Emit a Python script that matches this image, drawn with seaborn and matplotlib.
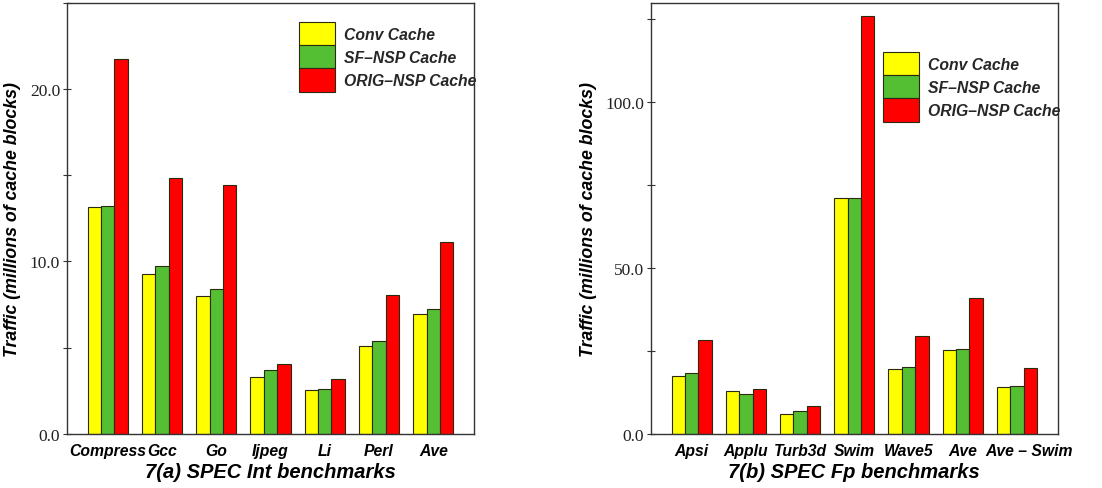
import pandas as pd
import seaborn as sns
import matplotlib.pyplot as plt
from matplotlib.ticker import MultipleLocator
from matplotlib.transforms import ScaledTranslation

# Traffic (millions of cache blocks)
int_benchmarks = ['Compress', 'Gcc', 'Go', 'Ijpeg', 'Li', 'Perl', 'Ave']
int_conv = [13.16, 9.25, 8.02, 3.28, 2.54, 5.10, 6.92]
int_sf_nsp = [13.20, 9.71, 8.42, 3.70, 2.60, 5.36, 7.21]
int_orig_nsp = [21.77, 14.84, 14.45, 4.06, 3.20, 8.07, 11.10]

fp_benchmarks = ['Apsi', 'Applu', 'Turb3d', 'Swim', 'Wave5', 'Ave', 'Ave \u2013 Swim']
fp_conv = [17.5, 12.95, 6.1, 71.0, 19.4, 25.4, 14.0]
fp_sf_nsp = [18.2, 12.05, 6.9, 71.1, 20.0, 25.6, 14.3]
fp_orig_nsp = [28.3, 13.4, 8.4, 126.1, 29.5, 41.0, 19.9]

schemes = ['Conv Cache', 'SF\u2013NSP Cache', 'ORIG\u2013NSP Cache']
colors = ['#ffff00', '#55bf33', '#ff0000']


def long_table(benchmarks, *series):
    rows = []
    for scheme, vals in zip(schemes, series):
        for b, v in zip(benchmarks, vals):
            rows.append({'Benchmark': b, 'Scheme': scheme, 'Traffic': v})
    return pd.DataFrame(rows)


sns.set_theme(style='white')
plt.rcParams['font.family'] = ['Liberation Sans', 'DejaVu Sans']

fig = plt.figure(figsize=(11.02, 4.89), dpi=100)
ax_int = fig.add_axes([0.0608, 0.111, 0.3693, 0.881])
ax_fp = fig.add_axes([0.5907, 0.111, 0.3691, 0.881])

panels = [
    (ax_int, long_table(int_benchmarks, int_conv, int_sf_nsp, int_orig_nsp),
     '7(a) SPEC Int benchmarks', 25.0, 10.0, 5.0, (0.57, 0.956)),
    (ax_fp, long_table(fp_benchmarks, fp_conv, fp_sf_nsp, fp_orig_nsp),
     '7(b) SPEC Fp benchmarks', 130.0, 50.0, 25.0, (0.57, 0.886)),
]

for ax, df, title, ymax, major, minor, legpos in panels:
    sns.barplot(data=df, x='Benchmark', y='Traffic', hue='Scheme',
                palette=colors, width=0.74, saturation=1, ax=ax,
                edgecolor='#2a2a10', linewidth=0.8)
    ax.set_xlim(-0.75, 6.75)
    ax.set_ylim(0, ymax)
    ax.yaxis.set_major_locator(MultipleLocator(major))
    ax.yaxis.set_minor_locator(MultipleLocator(minor))
    ax.yaxis.set_major_formatter('{x:.1f}')
    ax.tick_params(axis='y', which='both', direction='inout', left=True,
                   length=6, width=0.8, color='#333333', pad=2)
    ax.tick_params(axis='x', bottom=False, pad=1)
    for lab in ax.get_yticklabels():
        lab.set_fontfamily('Liberation Serif')
        lab.set_fontsize(12.5)
        lab.set_color('#222222')
    for lab in ax.get_xticklabels():
        lab.set_fontweight('bold')
        lab.set_fontstyle('italic')
        lab.set_fontsize(11.3)
        lab.set_color('black')
    for sp in ax.spines.values():
        sp.set_color('#333333')
        sp.set_linewidth(1.0)
    ax.set_xlabel(title, fontsize=14.5, fontweight='bold', fontstyle='italic',
                  labelpad=2.5, color='black')
    ax.set_ylabel('Traffic (millions of cache blocks)', fontsize=12.8,
                  fontweight='bold', fontstyle='italic', color='black',
                  labelpad=6)
    ax.legend(title=None, loc='upper left', bbox_to_anchor=legpos,
              frameon=False, handlelength=2.3, handleheight=1.9,
              labelspacing=0, handletextpad=0.6, borderaxespad=0,
              borderpad=0,
              prop={'weight': 'bold', 'style': 'italic', 'size': 11.3})

# the last Fp label sits a little right of its bar group in the original
last = ax_fp.get_xticklabels()[-1]
last.set_transform(last.get_transform() + ScaledTranslation(0.12, 0, fig.dpi_scale_trans))

fig.savefig('out.png', dpi=100)
